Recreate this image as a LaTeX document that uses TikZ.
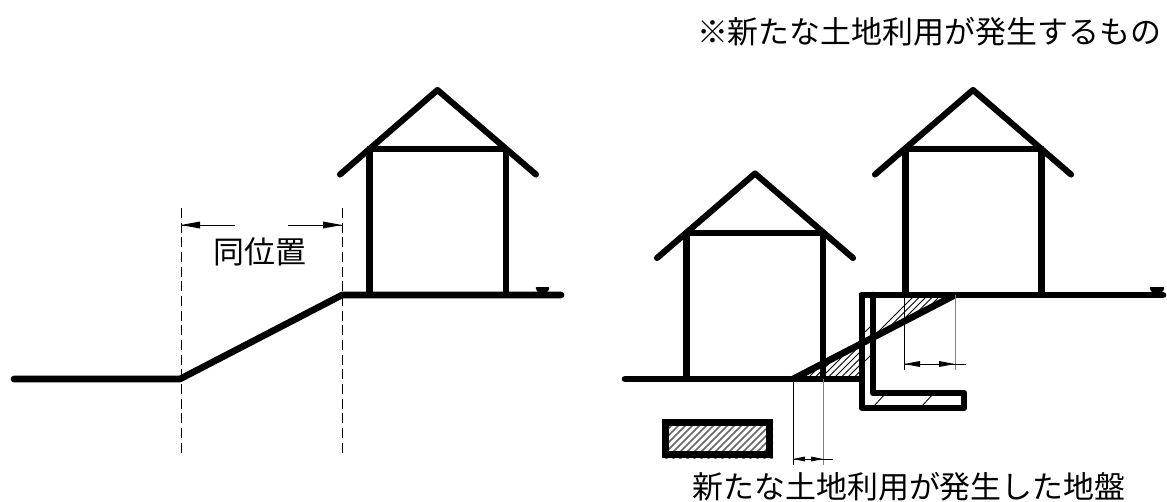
\documentclass[tikz,border=0pt]{standalone}
\usepackage{fontspec}
\setmainfont{Noto Sans CJK JP}
\begin{document}
\begin{tikzpicture}[x=0.75pt,y=-0.75pt,
  thick line/.style={line width=5pt,line cap=round,line join=round},
  wall line/.style={line width=4.6pt,line cap=butt,line join=miter},
  roof line/.style={line width=4.6pt,line cap=round,line join=round},
  thin line/.style={line width=0.6pt,black},
  dash line/.style={line width=0.6pt,black,dash pattern=on 7.5pt off 3.5pt},
  hatch line/.style={line width=0.65pt,black},
  label text/.style={font=\fontsize{23.2pt}{26pt}\selectfont,inner sep=0pt,text=black},
  dim tip/.style={fill=black,draw=none}]
\useasboundingbox (0,0) rectangle (1167,501);
% left house
\draw[wall line] (369.5,149) -- (369.5,295) (505.7,149) -- (505.7,295) (367,149) -- (508,149);
\draw[roof line] (340,174.5) -- (437.5,90) -- (536,174.5);
\draw[thick line] (14,379) -- (180,379) -- (342,295) -- (561,295);
\fill[rounded corners=1.5pt] (535,287) -- (550,287) -- (547,293) -- (538,293) -- cycle;
% left dimension
\draw[dash line] (181,208) -- (181,456);
\draw[dash line] (342,208) -- (342,456);
\draw[thin line] (181,225) -- (235,225) (288,225) -- (342,225);
\fill[dim tip] (181,225) -- (200,221.5) -- (200,228.5) -- cycle;
\fill[dim tip] (342,225) -- (323,221.5) -- (323,228.5) -- cycle;
\node[label text] (same) at (260,252) {同位置};
% hatching
\begin{scope}
\clip (877,297) -- (955,297) -- (877,335) -- cycle;
\foreach \k in {0,6.5,...,200} {\draw[hatch line] (860+\k,350) -- (860+\k+70,280);}
\end{scope}
\begin{scope}
\clip (800,377) -- (860,377) -- (860,345) -- cycle;
\foreach \k in {0,6.5,...,140} {\draw[hatch line] (760+\k,400) -- (760+\k+70,330);}
\end{scope}
\draw[hatch line] (865,332) -- (873,324);
\draw[hatch line] (865,361) -- (873,353);
\draw[hatch line] (873,407) -- (886,393);
\draw[hatch line] (921,407) -- (934,393);
% right houses
\draw[wall line] (686.5,233) -- (686.5,379) (823,233) -- (823,379) (684,233) -- (825.5,233);
\draw[roof line] (657,258) -- (755,173.5) -- (853,258);
\draw[wall line] (905.5,149) -- (905.5,295) (1041.5,149) -- (1041.5,295) (903,149) -- (1044,149);
\draw[roof line] (875,174.5) -- (973,90) -- (1071,174.5);
% right ground
\draw[thick line] (625,379) -- (860,379);
\draw[thick line] (862,295) -- (1163,295);
\fill[rounded corners=1.5pt] (1149,287) -- (1165,287) -- (1162,293) -- (1152,293) -- cycle;
\draw[wall line,line width=5pt] (793,379) -- (955,295);
\draw[thick line] (873,295) -- (873,393) -- (964,393) -- (964,408) -- (862,408) -- (862,295) -- (873,295);
% right dimensions
\draw[thin line] (904,295) -- (904,370);
\draw[thin line,gray] (955,295) -- (955,370);
\draw[thin line] (904,364) -- (966,364);
\fill[dim tip] (904,364) -- (920,361) -- (920,367) -- cycle;
\fill[dim tip] (955,364) -- (939,361) -- (939,367) -- cycle;
\draw[thin line] (793,379) -- (793,465);
\draw[thin line,gray] (823,379) -- (823,465);
\draw[thin line] (793,459) -- (833,459);
\fill[dim tip] (793,459) -- (805,456.5) -- (805,461.5) -- cycle;
\fill[dim tip] (823,459) -- (811,456.5) -- (811,461.5) -- cycle;
% legend
\begin{scope}
\clip (662,419) rectangle (773,458);
\foreach \k in {0,7,...,170} {\draw[line width=1.1pt,black!60] (620+\k,470) -- (620+\k+60,410);}
\end{scope}
\draw[line width=5pt,line join=miter] (665.3,422.3) rectangle (769.7,454.7);
% texts
\node[label text] (top) at (929,32) {※新たな土地利用が発生するもの};
\node[label text] (ground) at (909,487) {新たな土地利用が発生した地盤};
\end{tikzpicture}
\end{document}
